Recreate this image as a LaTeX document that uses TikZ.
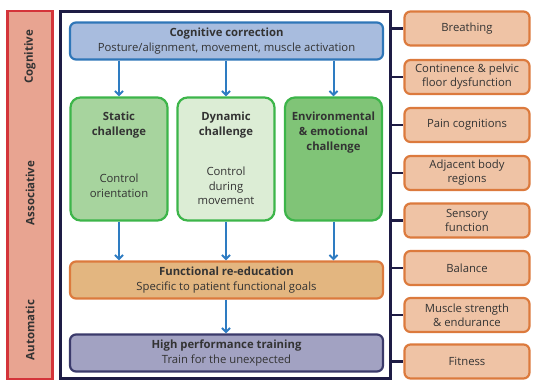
\documentclass[tikz,border=0pt]{standalone}
\usepackage{fontspec}
\setmainfont{Open Sans}
\usetikzlibrary{arrows.meta,positioning}
\definecolor{stagered}{HTML}{D4343A}
\definecolor{stagefill}{HTML}{E8A491}
\definecolor{framenavy}{HTML}{1E1C45}
\definecolor{cogfill}{HTML}{A8BCDE}
\definecolor{cogline}{HTML}{2F76B8}
\definecolor{arrowblue}{HTML}{2E7CC2}
\definecolor{greenline}{HTML}{3DB54A}
\definecolor{staticfill}{HTML}{A7D49E}
\definecolor{dynfill}{HTML}{DCEDD5}
\definecolor{envfill}{HTML}{80C477}
\definecolor{funcfill}{HTML}{E3B680}
\definecolor{orangeline}{HTML}{DC7A3D}
\definecolor{hpfill}{HTML}{A2A2C2}
\definecolor{hpline}{HTML}{3B3A6B}
\definecolor{sidefill}{HTML}{EFC3A5}
\definecolor{textgrey}{HTML}{333333}
\tikzset{
  bigbox/.style={draw, line width=2.2pt, rounded corners=6pt, minimum width=313pt,
    minimum height=37pt, align=center, text=textgrey, font=\fontsize{11.3}{14.5}\selectfont, inner sep=0pt},
  greenbox/.style={draw=greenline, line width=2.2pt, rounded corners=10pt, minimum width=97pt,
    minimum height=123pt, inner sep=0pt},
  gtitle/.style={align=center, text=textgrey, font=\bfseries\fontsize{11.3}{15}\selectfont, inner sep=0pt},
  gsub/.style={align=center, text=textgrey, font=\fontsize{11.3}{14.5}\selectfont, inner sep=0pt},
  sidebox/.style={draw=orangeline, fill=sidefill, line width=2.2pt, rounded corners=6pt,
    minimum width=125pt, minimum height=34pt, align=center, text=textgrey,
    font=\fontsize{11.3}{14}\selectfont, inner sep=0pt},
  flow/.style={arrowblue, line width=2pt, -{Straight Barb[length=4pt,width=8pt,line width=2pt]}},
  tick/.style={framenavy, line width=2.2pt},
  stagelabel/.style={rotate=90, text=textgrey, font=\bfseries\fontsize{11.5}{12}\selectfont, inner sep=0pt}
}
\begin{document}
\begin{tikzpicture}[x=1pt,y=-1pt]
\useasboundingbox (0,0) rectangle (533,386);

% learning stages bar
\node[draw=stagered, fill=stagefill, line width=2.4pt, minimum width=45pt, minimum height=368pt,
  inner sep=0pt] (stages) at (30,195) {};
\node[stagelabel] (lcog) at (30,57) {Cognitive};
\node[stagelabel] (lass) at (30,193) {Associative};
\node[stagelabel] (laut) at (30,330) {Automatic};

% main frame
\node[draw=framenavy, line width=2.4pt, minimum width=330pt, minimum height=367pt,
  inner sep=0pt] (frame) at (225.5,195) {};

% central flow
\node[bigbox, draw=cogline, fill=cogfill] (cog) at (226.5,41)
  {\textbf{Cognitive correction}\\Posture/alignment, movement, muscle activation};

\node[greenbox, fill=staticfill] (static) at (119,159) {};
\node[greenbox, fill=dynfill] (dynamic) at (226,159) {};
\node[greenbox, fill=envfill] (env) at (333.5,159) {};

\node[gtitle, anchor=north] (statict) at ([yshift=-15.5pt]static.north) {Static\\challenge};
\node[gtitle, anchor=north] (dynamict) at ([yshift=-15.5pt]dynamic.north) {Dynamic\\challenge};
\node[gtitle, anchor=north] (envt) at ([yshift=-15.5pt]env.north) {Environmental\\\& emotional\\challenge};
\node[gsub] (statics) at (119,186) {Control\\orientation};
\node[gsub] (dynamics) at (226,186) {Control\\during\\movement};

\node[bigbox, draw=orangeline, fill=funcfill] (func) at (226.5,280)
  {\textbf{Functional re-education}\\Specific to patient functional goals};
\node[bigbox, draw=hpline, fill=hpfill] (hp) at (226.5,353)
  {\textbf{High performance training}\\Train for the unexpected};

\draw[flow] (static.north |- cog.south) -- (static.north);
\draw[flow] (dynamic.north |- cog.south) -- (dynamic.north);
\draw[flow] (env.north |- cog.south) -- (env.north);
\draw[flow] (static.south) -- (static.south |- func.north);
\draw[flow] (dynamic.south) -- (dynamic.south |- func.north);
\draw[flow] (env.south) -- (env.south |- func.north);
\draw[flow] (dynamic.south |- func.south) -- (dynamic.south |- hp.north);

% contributing factors
\node[sidebox] (s1) at (467,28.5) {Breathing};
\node[sidebox] (s2) at (467,77) {Continence \& pelvic\\floor dysfunction};
\node[sidebox] (s3) at (467,125) {Pain cognitions};
\node[sidebox] (s4) at (467,173) {Adjacent body\\regions};
\node[sidebox] (s5) at (467,220.5) {Sensory\\function};
\node[sidebox] (s6) at (467,268) {Balance};
\node[sidebox] (s7) at (467,315) {Muscle strength\\\& endurance};
\node[sidebox] (s8) at (467,361.5) {Fitness};

\foreach \s in {s1,s2,s3,s4,s5,s6,s7,s8}
  \draw[tick] (frame.east |- \s.west) -- (\s.west);
\end{tikzpicture}
\end{document}
